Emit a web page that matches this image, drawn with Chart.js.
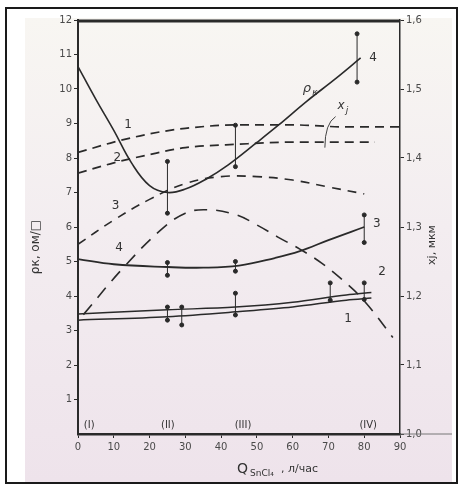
<!DOCTYPE html>
<html>
<head>
<meta charset="utf-8">
<script src="https://cdn.jsdelivr.net/npm/chart.js@4.4.1/dist/chart.umd.min.js"></script>
<style>
  html, body { margin: 0; padding: 0; background: #fff; }
  #wrap { position: absolute; left: 0; top: 0; width: 463px; height: 491px; }
  #wrap canvas { position: absolute; left: 0; top: 0; }
  #frame { position: absolute; left: 5px; top: 7px; width: 449px; height: 473px;
           border: 2px solid #1a1a1a; pointer-events: none; }
</style>
</head>
<body>
<div id="wrap">
  <canvas id="diffChart" width="463" height="491"></canvas>
  <div id="frame"></div>
</div>
<script>
  // Data (Q in x units, rho on left axis, xj on right axis)
  const qRho  = [0, 5, 10, 15, 20, 25, 30, 36, 42, 50, 56, 64, 72, 79];
  const rhoK  = [10.65, 9.7, 8.8, 7.85, 7.2, 7.0, 7.1, 7.4, 7.8, 8.45, 8.95, 9.65, 10.3, 10.9];

  const qRho3 = [0, 10, 25, 35, 45, 55, 62, 70, 80];
  const rho3  = [5.07, 4.92, 4.84, 4.82, 4.88, 5.1, 5.3, 5.62, 6.0];

  const qRho12 = [0, 25, 44, 60, 75, 82];
  const rho1   = [3.3, 3.4, 3.54, 3.68, 3.88, 3.94];
  const rho2   = [3.48, 3.6, 3.68, 3.82, 4.03, 4.1];

  // junction depth curves (dashed), right axis
  const qXj1 = [0, 10, 20, 30, 45, 60, 75, 90];
  const xj1  = [1.408, 1.423, 1.435, 1.443, 1.448, 1.448, 1.445, 1.445];
  const qXj2 = [0, 10, 20, 30, 45, 60, 83];
  const xj2  = [1.378, 1.393, 1.405, 1.415, 1.42, 1.423, 1.423];
  const qXj3 = [0, 10, 20, 30, 40, 50, 60, 70, 80];
  const xj3  = [1.275, 1.31, 1.34, 1.363, 1.373, 1.373, 1.368, 1.358, 1.348];
  const qXj4 = [1.5, 12.5, 23, 30, 36, 44, 50, 56, 62, 68, 74, 80, 88];
  const xj4  = [1.173, 1.24, 1.295, 1.32, 1.325, 1.318, 1.303, 1.285, 1.268, 1.248, 1.223, 1.193, 1.14];

  // scatter (error) bars
  const errRhoQ  = [25, 44, 78];
  const errRhoLo = [6.4, 7.75, 10.2];
  const errRhoHi = [7.9, 8.95, 11.6];
  const err3Q  = [25, 44, 80];
  const err3Lo = [4.6, 4.72, 5.55];
  const err3Hi = [4.97, 5.0, 6.35];
  const err12Q  = [25, 29, 44, 70.5, 80];
  const err12Lo = [3.3, 3.16, 3.45, 3.88, 3.9];
  const err12Hi = [3.68, 3.68, 4.08, 4.38, 4.38];

  // regimes marked on the x axis
  const regimeQ      = [2, 24, 45, 80];
  const regimeLabels = ['(I)', '(II)', '(III)', '(IV)'];

  const xTicks  = [0, 10, 20, 30, 40, 50, 60, 70, 80, 90];
  const yTicks  = [1, 2, 3, 4, 5, 6, 7, 8, 9, 10, 11, 12];

  const ink = '#2a2a2a';
  const pts = (xs, ys) => xs.map((x, i) => ({ x, y: ys[i] }));
  const bars = (xs, lo, hi) => xs.flatMap((x, i) => [{ x, y: lo[i] }, { x, y: hi[i] }, { x, y: null }]);

  // curve labels, placed in data units
  const notes = [
    { t: '1', q: 14, v: 8.95 },
    { t: '2', q: 11, v: 8.0 },
    { t: '3', q: 10.5, v: 6.6 },
    { t: '4', q: 11.5, v: 5.4 },
    { t: '4', q: 82.5, v: 10.9 },
    { t: '3', q: 83.5, v: 6.1 },
    { t: '2', q: 85, v: 4.7 },
    { t: '1', q: 75.5, v: 3.35 },
  ];

  const lineDs = (data, axis, width, dash, smooth) => ({
    data, yAxisID: axis, borderColor: ink, borderWidth: width,
    borderDash: dash || [], pointRadius: 0, fill: false,
    cubicInterpolationMode: smooth ? 'default' : 'monotone', tension: 0.4
  });
  const barDs = (data) => ({
    data, yAxisID: 'y', borderColor: ink, borderWidth: 1, showLine: true, spanGaps: false,
    pointRadius: 2, pointBackgroundColor: ink, pointBorderColor: ink, tension: 0
  });

  const paper = {
    id: 'paper',
    beforeDraw(chart) {
      const c = chart.ctx;
      c.save();
      c.fillStyle = '#ffffff';
      c.fillRect(0, 0, chart.width, chart.height);
      const g = c.createLinearGradient(0, 18, 0, 482);
      g.addColorStop(0, '#f8f6f2');
      g.addColorStop(0.45, '#f3edf0');
      g.addColorStop(1, '#eee3eb');
      c.fillStyle = g;
      c.fillRect(25, 18, 427, 464);
      c.restore();
    },
    afterDraw(chart) {
      const c = chart.ctx;
      const a = chart.chartArea;
      const sx = chart.scales.x, sy = chart.scales.y;
      c.save();
      // heavy top edge of the plot box and the x axis running past the right axis
      c.strokeStyle = ink;
      c.lineWidth = 3;
      c.beginPath(); c.moveTo(a.left, a.top + 1); c.lineTo(a.right, a.top + 1); c.stroke();
      c.lineWidth = 1;
      c.strokeStyle = '#777';
      c.beginPath(); c.moveTo(a.right, a.bottom); c.lineTo(452, a.bottom); c.stroke();

      c.fillStyle = '#333';
      c.textAlign = 'center';
      c.textBaseline = 'middle';
      c.font = '12px "DejaVu Sans"';
      notes.forEach(n => c.fillText(n.t, sx.getPixelForValue(n.q), sy.getPixelForValue(n.v)));

      // rho_k label and xj label with leader
      c.font = 'italic 13px "DejaVu Sans"';
      c.fillText('ρ', sx.getPixelForValue(64), sy.getPixelForValue(10.0));
      c.font = 'italic 9px "DejaVu Sans"';
      c.fillText('к', sx.getPixelForValue(64) + 8, sy.getPixelForValue(10.0) + 4);
      c.font = 'italic 12px "DejaVu Sans"';
      c.fillText('x', sx.getPixelForValue(73.5), sy.getPixelForValue(9.5));
      c.font = 'italic 9px "DejaVu Sans"';
      c.fillText('j', sx.getPixelForValue(73.5) + 6, sy.getPixelForValue(9.5) + 4);
      c.strokeStyle = '#444';
      c.lineWidth = 1;
      c.beginPath();
      c.moveTo(sx.getPixelForValue(72), sy.getPixelForValue(9.2));
      c.quadraticCurveTo(sx.getPixelForValue(69), sy.getPixelForValue(9.0),
                         sx.getPixelForValue(69), sy.getPixelForValue(8.3));
      c.stroke();

      // regimes
      c.font = '10px "DejaVu Sans"';
      regimeQ.forEach((q, i) => c.fillText(regimeLabels[i], sx.getPixelForValue(q) + 4, a.bottom - 9));

      // axis titles
      c.font = '12px "DejaVu Sans"';
      c.save();
      c.translate(36, 247);
      c.rotate(-Math.PI / 2);
      c.fillText('ρк, ом/□', 0, 0);
      c.restore();
      c.save();
      c.translate(432, 245);
      c.rotate(-Math.PI / 2);
      c.font = '11px "DejaVu Sans"';
      c.fillText('xj, мкм', 0, 0);
      c.restore();

      c.textAlign = 'left';
      c.font = '14px "DejaVu Sans"';
      c.fillText('Q', 237, 469);
      c.font = '9px "DejaVu Sans"';
      c.fillText('SnCl₄', 250, 474);
      c.font = '11px "DejaVu Sans"';
      c.fillText(', л/час', 281, 469);
      c.restore();
    }
  };

  const ctx = document.getElementById('diffChart');
  new Chart(ctx, {
    type: 'line',
    data: {
      datasets: [
        lineDs(pts(qRho, rhoK), 'y', 1.6, null, true),
        lineDs(pts(qRho3, rho3), 'y', 1.8, null, true),
        lineDs(pts(qRho12, rho1), 'y', 1.5),
        lineDs(pts(qRho12, rho2), 'y', 1.5),
        lineDs(pts(qXj1, xj1), 'y2', 1.7, [9, 6]),
        lineDs(pts(qXj2, xj2), 'y2', 1.7, [9, 6]),
        lineDs(pts(qXj3, xj3), 'y2', 1.6, [9, 7], true),
        lineDs(pts(qXj4, xj4), 'y2', 1.6, [13, 9], true),
        barDs(bars(errRhoQ, errRhoLo, errRhoHi)),
        barDs(bars(err3Q, err3Lo, err3Hi)),
        barDs(bars(err12Q, err12Lo, err12Hi)),
      ]
    },
    options: {
      responsive: false,
      animation: false,
      devicePixelRatio: 1,
      layout: { padding: { top: 20, left: 0, right: 0, bottom: 0 } },
      plugins: { legend: { display: false }, tooltip: { enabled: false } },
      scales: {
        x: {
          type: 'linear', min: 0, max: 90,
          afterFit: s => { s.height = 57; },
          afterBuildTicks: s => { s.ticks = xTicks.map(v => ({ value: v })); },
          grid: { drawOnChartArea: false, color: ink, tickLength: 4 },
          border: { color: ink, width: 2.5 },
          ticks: { color: '#4a4a4a', font: { family: 'DejaVu Sans', size: 10 }, padding: 3, maxRotation: 0 }
        },
        y: {
          position: 'left', min: 0, max: 12,
          afterFit: s => { s.width = 78; },
          afterBuildTicks: s => { s.ticks = yTicks.map(v => ({ value: v })); },
          grid: { drawOnChartArea: false, color: ink, tickLength: 4 },
          border: { color: ink, width: 2 },
          ticks: { color: '#4a4a4a', font: { family: 'DejaVu Sans', size: 10 }, padding: 2 }
        },
        y2: {
          position: 'right', min: 1.0, max: 1.6,
          afterFit: s => { s.width = 63; },
          grid: { drawOnChartArea: false, color: ink, tickLength: 4 },
          border: { color: ink, width: 1.5 },
          ticks: {
            stepSize: 0.1, color: '#4a4a4a', font: { family: 'DejaVu Sans', size: 10 }, padding: 2,
            callback: v => v.toFixed(1).replace('.', ',')
          }
        }
      }
    },
    plugins: [paper]
  });
</script>
</body>
</html>
